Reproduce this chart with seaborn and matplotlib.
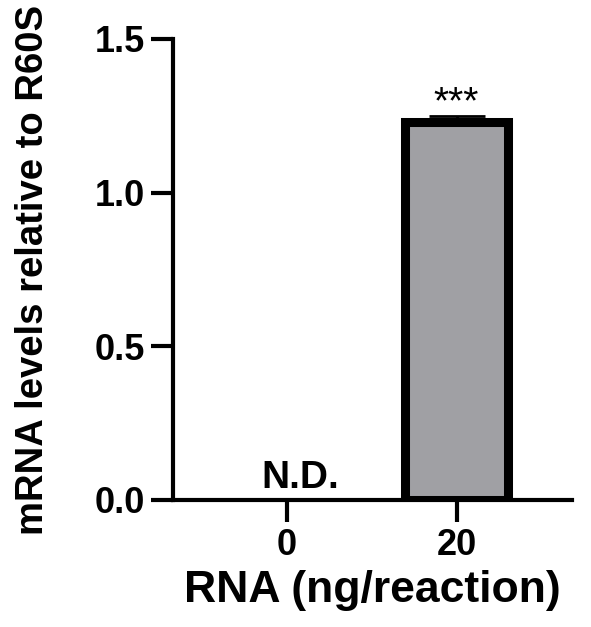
import pandas as pd
import seaborn as sns
import matplotlib.pyplot as plt
import numpy as np

# data
doses = ["0", "20"]
means = [np.nan, 1.23]      # 0 ng: not detected
sems = [np.nan, 0.018]
marks = ["N.D.", "***"]

sns.set_style("ticks")
plt.rcParams['font.family'] = ['Liberation Sans', 'DejaVu Sans']
plt.rcParams['font.weight'] = 'bold'
for k in ["text.color", "axes.labelcolor", "xtick.color", "ytick.color"]:
    plt.rcParams[k] = "black"

df = pd.DataFrame({"dose": doses, "value": means})
df_drawn = df.dropna()

fig = plt.figure(figsize=(5.91, 6.27), dpi=100)
ax = fig.add_axes([0.2927, 0.2026, 0.6753, 0.7352])

sns.barplot(data=df_drawn, x="dose", y="value", order=doses, color="#A0A0A4",
            edgecolor="black", linewidth=6.5, width=0.61, errorbar=None, ax=ax,
            saturation=1)

xs = np.arange(len(doses))
for i, (m, s) in enumerate(zip(means, sems)):
    if np.isnan(m):
        ax.text(xs[i] + 0.08, 0.04, marks[i], ha="center", va="baseline",
                fontsize=28, fontweight="bold")
    else:
        ax.errorbar(xs[i], m, yerr=[[0], [s]], color="black", capsize=20,
                    capthick=2, elinewidth=2, zorder=1)
        ax.text(xs[i], m + s + 0.01, marks[i], ha="center", va="baseline",
                fontsize=28, fontweight="normal")

ax.set_xlim(-0.67, 1.68)
ax.set_ylim(0, 1.5)
ax.set_yticks([0.0, 0.5, 1.0, 1.5])
ax.set_yticklabels(["0.0", "0.5", "1.0", "1.5"])
ax.set_xlabel("RNA (ng/reaction)", fontsize=32, fontweight="bold")
ax.set_ylabel("mRNA levels relative to R60S", fontsize=27.5, fontweight="bold")
ax.xaxis.set_label_coords(0.5, -0.152)
ax.yaxis.set_label_coords(-0.305, 0.5)
ax.tick_params(axis="both", width=3, length=16, labelsize=26, pad=4)
for lab in ax.get_xticklabels() + ax.get_yticklabels():
    lab.set_fontweight("bold")
sns.despine(ax=ax)
for sp in ["left", "bottom"]:
    ax.spines[sp].set_linewidth(3)
    ax.spines[sp].set_color("black")

plt.savefig("out.png", dpi=100)
